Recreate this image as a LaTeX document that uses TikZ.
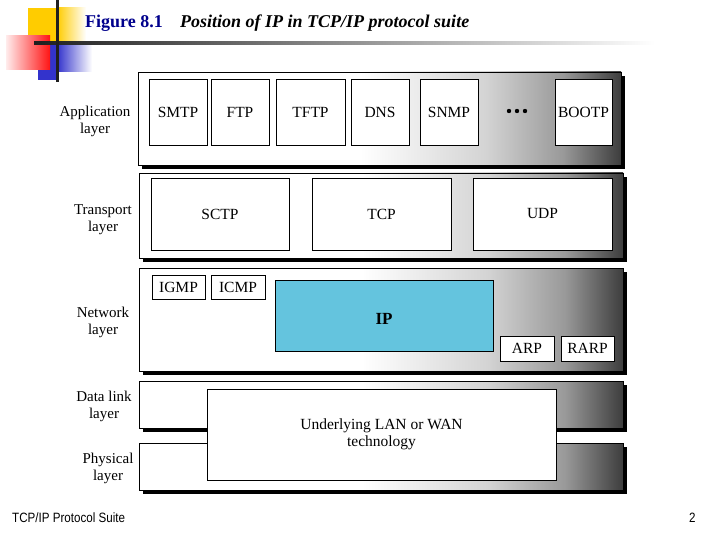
\documentclass[tikz,border=0pt]{standalone}
\usepackage{fontspec}
\setmainfont{Liberation Serif}
\newfontfamily\footfont[FakeStretch=0.86]{Liberation Sans}
\usetikzlibrary{shadows}
\definecolor{ipblue}{RGB}{100,196,222}
\definecolor{titleblue}{RGB}{0,0,140}
\definecolor{decoyellow}{RGB}{255,204,0}
\definecolor{decoblue}{RGB}{51,51,204}
\definecolor{decored}{RGB}{255,20,20}
\pgfdeclarehorizontalshading{bandshade}{100bp}{color(0bp)=(white); color(25bp)=(white); color(48bp)=(white); color(61bp)=(black!17); color(69bp)=(black!40); color(75bp)=(black!76); color(100bp)=(black!76)}
\tikzset{
  band/.style={draw=black, line width=0.8pt, shading=bandshade, inner sep=0pt,
    drop shadow={shadow xshift=4pt, shadow yshift=-4pt, fill=black, opacity=1}},
  pbox/.style={draw=black, line width=0.7pt, fill=white, inner sep=0pt, font=\fontsize{15.5}{17}\selectfont},
  lay/.style={align=center, font=\fontsize{15}{17}\selectfont, inner sep=0pt},
}
\begin{document}
\begin{tikzpicture}[x=1pt,y=-1pt]
\useasboundingbox (0,0) rectangle (720,540);
% decoration
\fill[decoyellow] (28,8) rectangle (57,43);
\shade[left color=decoyellow, right color=white] (57,8) rectangle (86,43);
\fill[decoblue] (38,43) rectangle (57,80);
\shade[left color=decoblue, right color=white] (57,43) rectangle (92,72);
\shade[left color=decored!8, right color=decored] (6,36) rectangle (50,70);
\shade[left color=black!88, right color=white] (34,41.5) rectangle (655,44.5);
\fill[black!88] (56,0) rectangle (58.5,82);
% title
\node[anchor=base west, inner sep=0pt, text=titleblue, font=\fontsize{18}{20}\selectfont\bfseries] (fig) at (85,28) {Figure 8.1};
\node[anchor=base west, inner sep=0pt, font=\fontsize{18}{20}\selectfont\bfseries\itshape] (title) at (180,28) {Position of IP in TCP/IP protocol suite};
% bands
\node[band, minimum width=483pt, minimum height=93pt] (appband) at (379.5,118.5) {};
\node[band, minimum width=484pt, minimum height=85pt] (traband) at (381,215.5) {};
\node[band, minimum width=484pt, minimum height=103pt] (netband) at (381,319.5) {};
\node[band, minimum width=484pt, minimum height=47pt] (dlband) at (381,404.5) {};
\node[band, minimum width=484pt, minimum height=47pt] (phband) at (381,466.5) {};
% layer labels
\node[lay] (applab) at (95,121.5) {Application\\layer};
\node[lay] (tralab) at (103,220) {Transport\\layer};
\node[lay] (netlab) at (103,322.5) {Network\\layer};
\node[lay] (dllab) at (104,406.5) {Data link\\layer};
\node[lay] (phlab) at (108,468.5) {Physical\\layer};
% application protocols
\node[pbox, minimum width=58pt, minimum height=66pt] (smtp) at (178,112) {SMTP};
\node[pbox, minimum width=58pt, minimum height=66pt] (ftp) at (240,112) {FTP};
\node[pbox, minimum width=69pt, minimum height=66pt] (tftp) at (310.5,112) {TFTP};
\node[pbox, minimum width=58pt, minimum height=66pt] (dns) at (380,112) {DNS};
\node[pbox, minimum width=58pt, minimum height=66pt] (snmp) at (449,112) {SNMP};
\node[pbox, minimum width=57pt, minimum height=66pt] (bootp) at (583.5,112) {BOOTP};
\fill (509,111) circle (2.2) (517,111) circle (2.2) (525,111) circle (2.2);
% transport
\node[pbox, minimum width=138pt, minimum height=72pt] (sctp) at (220,214) {SCTP};
\node[pbox, minimum width=139pt, minimum height=72pt] (tcp) at (381.5,214) {TCP};
\node[pbox, minimum width=139pt, minimum height=72pt] (udp) at (542.5,214) {UDP};
% network
\node[pbox, minimum width=53pt, minimum height=24pt] (igmp) at (178.5,287) {IGMP};
\node[pbox, minimum width=54pt, minimum height=24pt] (icmp) at (238,287) {ICMP};
\node[pbox, fill=ipblue, minimum width=218pt, minimum height=71pt, font=\fontsize{17}{20}\selectfont\bfseries] (ip) at (384,316) {\raisebox{-8pt}[0pt][0pt]{IP}};
\node[pbox, minimum width=54pt, minimum height=25pt] (arp) at (527,348.5) {ARP};
\node[pbox, minimum width=53pt, minimum height=25pt] (rarp) at (587.5,348.5) {RARP};
% underlying
\node[pbox, align=center, minimum width=349pt, minimum height=91pt] (lan) at (381.5,434.5) {Underlying LAN or WAN\\technology};
% footer
\node[anchor=base west, inner sep=0pt, font=\footfont\fontsize{13.5}{16}\selectfont] (foot) at (12,522) {TCP/IP Protocol Suite};
\node[anchor=base west, inner sep=0pt, font=\footfont\fontsize{13.5}{16}\selectfont] (page) at (689,522) {2};
\end{tikzpicture}
\end{document}
